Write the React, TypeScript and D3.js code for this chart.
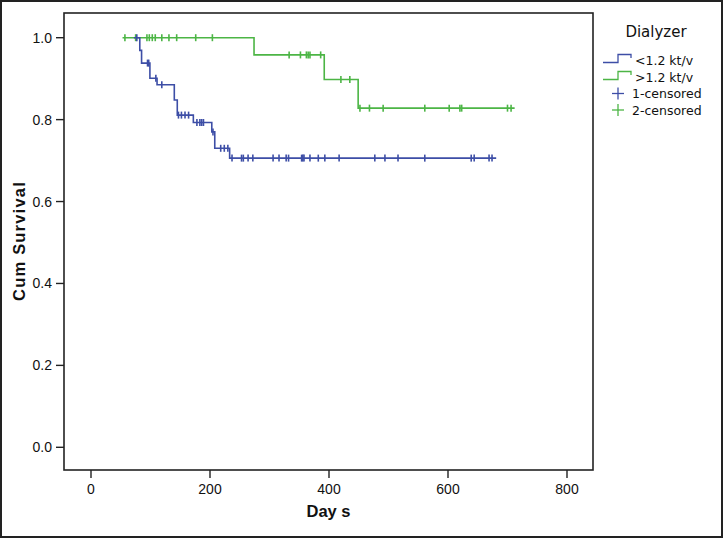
import React from "react";
import * as d3 from "d3";

// ---- Data ----
const xTicks = [0, 200, 400, 600, 800];
const yTicks = [0.0, 0.2, 0.4, 0.6, 0.8, 1.0];

// Group 1: <1.2 kt/v
const blueStartDay = 72;
const blueEndDay = 681;
const blueEventDays = [82, 85, 99, 111, 140, 145, 172, 203, 208, 233];
const blueEventSurv = [0.969, 0.938, 0.901, 0.885, 0.848, 0.811, 0.793, 0.77, 0.73, 0.706];
const blueCensorDays = [
  77, 95, 97, 109, 119, 147, 152, 158, 164, 178, 183, 186, 189, 205, 218, 224, 230, 237, 253, 256,
  264, 272, 306, 316, 328, 332, 354, 356, 358, 368, 382, 393, 417, 477, 494, 516, 561, 639, 644,
  669, 674,
];

// Group 2: >1.2 kt/v
const greenStartDay = 53;
const greenEndDay = 712;
const greenEventDays = [274, 392, 449];
const greenEventSurv = [0.958, 0.898, 0.828];
const greenCensorDays = [
  57, 75, 94, 98, 103, 108, 119, 131, 144, 176, 204, 333, 352, 362, 365, 368, 386, 420, 435, 452,
  468, 491, 561, 602, 620, 623, 700, 706,
];

const legendTitle = "Dialyzer";
const legendLabels = ["<1.2 kt/v", ">1.2 kt/v", "1-censored", "2-censored"];

const BLUE = "#3d4ea6";
const GREEN = "#4cb545";
const AXIS = "#222";

const W = 723;
const H = 538;
const plotL = 64;
const plotR = 593;
const plotT = 13;
const plotB = 470;

const x = d3.scaleLinear().domain([0, 800]).range([91, 567]);
const y = d3.scaleLinear().domain([0, 1]).range([447.3, 37.7]);

function survAt(t: number, days: number[], surv: number[]) {
  let s = 1;
  for (let i = 0; i < days.length; i++) if (days[i] <= t) s = surv[i];
  return s;
}

function stepPoints(start: number, end: number, days: number[], surv: number[]): [number, number][] {
  const pts: [number, number][] = [[start, 1]];
  days.forEach((d, i) => pts.push([d, surv[i]]));
  pts.push([end, surv[surv.length - 1]]);
  return pts;
}

const line = d3
  .line<[number, number]>()
  .x((d) => x(d[0]))
  .y((d) => y(d[1]))
  .curve(d3.curveStepAfter);

const tickFont = "'Liberation Sans', Arial, sans-serif";
const legFont = "'DejaVu Sans', sans-serif";

function Series({
  start,
  end,
  days,
  surv,
  censors,
  color,
}: {
  start: number;
  end: number;
  days: number[];
  surv: number[];
  censors: number[];
  color: string;
}) {
  const pts = stepPoints(start, end, days, surv);
  return (
    <g>
      <path d={line(pts) || ""} fill="none" stroke={color} strokeWidth={1.6} />
      {censors.map((c, i) => {
        const cx = x(c);
        const cy = y(survAt(c, days, surv));
        return (
          <line key={i} x1={cx} x2={cx} y1={cy - 3.5} y2={cy + 3.5} stroke={color} strokeWidth={1.6} />
        );
      })}
    </g>
  );
}

export default function App() {
  const legRows = [60, 77, 93.5, 110];
  const stepSym = (cy: number, color: string) => {
    const lo = cy + 2.5;
    const hi = cy - 5.5;
    return (
      <path
        d={`M603,${lo} H618 V${hi} H631 V${hi + 3.5}`}
        fill="none"
        stroke={color}
        strokeWidth={1.3}
      />
    );
  };
  const plus = (cy: number, color: string) => (
    <g stroke={color} strokeWidth={1.3}>
      <line x1={612} x2={624} y1={cy} y2={cy} />
      <line x1={618} x2={618} y1={cy - 6} y2={cy + 6} />
    </g>
  );
  return (
    <svg
      width={W}
      height={H}
      style={{ position: "absolute", left: 0, top: 0, background: "#fff" }}
    >
      <rect x={0} y={0} width={W} height={H} fill="#fff" />
      <rect x={1} y={1} width={W - 2} height={H - 2} fill="none" stroke={AXIS} strokeWidth={2} />

      {/* plot frame */}
      <rect
        x={plotL}
        y={plotT}
        width={plotR - plotL}
        height={plotB - plotT}
        fill="none"
        stroke={AXIS}
        strokeWidth={1.6}
      />

      {/* y ticks */}
      {yTicks.map((t) => (
        <g key={t}>
          <line x1={56} x2={plotL} y1={y(t)} y2={y(t)} stroke={AXIS} strokeWidth={1.4} />
          <text
            x={52}
            y={y(t) + 5}
            textAnchor="end"
            fontFamily={tickFont}
            fontSize={14}
            fill="#111"
          >
            {d3.format(".1f")(t)}
          </text>
        </g>
      ))}

      {/* x ticks */}
      {xTicks.map((t) => (
        <g key={t}>
          <line x1={x(t)} x2={x(t)} y1={plotB} y2={plotB + 8} stroke={AXIS} strokeWidth={1.4} />
          <text
            x={x(t)}
            y={494}
            textAnchor="middle"
            fontFamily={tickFont}
            fontSize={14}
            fill="#111"
          >
            {t}
          </text>
        </g>
      ))}

      {/* axis titles */}
      <text
        x={328.5}
        y={517}
        textAnchor="middle"
        fontFamily={tickFont}
        fontWeight="bold"
        fontSize={16.5}
        fill="#111"
      >
        Day s
      </text>
      <text
        transform="translate(25,241) rotate(-90)"
        textAnchor="middle"
        fontFamily={tickFont}
        fontWeight="bold"
        fontSize={16.5}
        letterSpacing={1.2}
        fill="#111"
      >
        Cum Survival
      </text>

      {/* curves */}
      <Series
        start={greenStartDay}
        end={greenEndDay}
        days={greenEventDays}
        surv={greenEventSurv}
        censors={greenCensorDays}
        color={GREEN}
      />
      <Series
        start={blueStartDay}
        end={blueEndDay}
        days={blueEventDays}
        surv={blueEventSurv}
        censors={blueCensorDays}
        color={BLUE}
      />

      {/* legend */}
      <text x={656} y={37} textAnchor="middle" fontFamily={legFont} fontSize={15} fill="#111">
        {legendTitle}
      </text>
      {stepSym(legRows[0], BLUE)}
      {stepSym(legRows[1], GREEN)}
      {plus(legRows[2], BLUE)}
      {plus(legRows[3], GREEN)}
      {legendLabels.map((lab, i) => (
        <text
          key={lab}
          x={i < 2 ? 635 : 632}
          y={legRows[i] + 4.5}
          fontFamily={legFont}
          fontSize={12.5}
          fill="#111"
        >
          {lab}
        </text>
      ))}
    </svg>
  );
}
